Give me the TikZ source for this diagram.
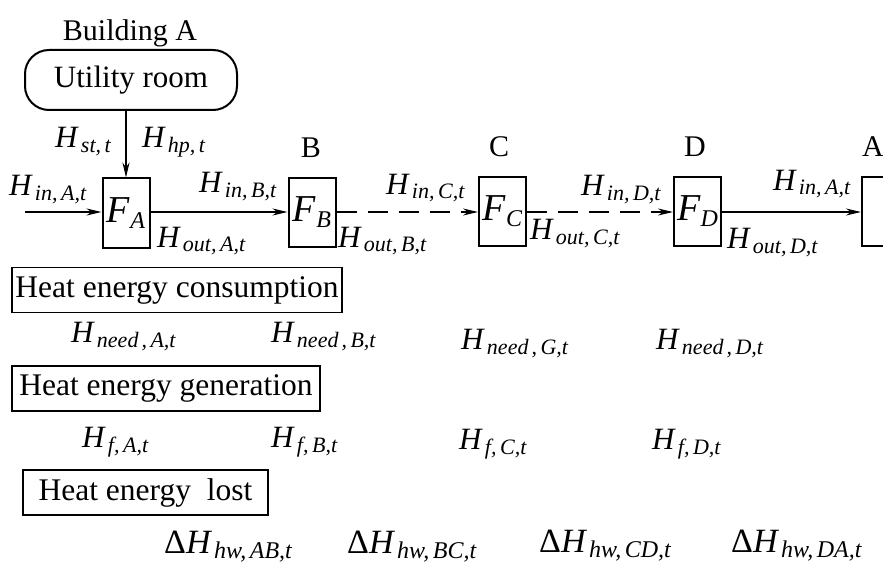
\documentclass[tikz,border=0pt]{standalone}
\usepackage{fontspec}
\setmainfont{Liberation Serif}
\usetikzlibrary{arrows.meta}
\newcommand\cm{,\hspace{3.5pt}}
\newcommand\Hs[1]{\fontsize{31}{31}\selectfont\textit{H}\hspace{2pt}\raisebox{-5pt}{\fontsize{22}{22}\selectfont\textit{#1}}}
\newcommand\Ds[1]{\fontsize{34}{34}\selectfont Δ\textit{H}\hspace{2pt}\raisebox{-5pt}{\fontsize{24}{24}\selectfont\textit{#1}}}
\newcommand\Fs[1]{\fontsize{38}{38}\selectfont\textit{F}\raisebox{-6pt}{\fontsize{24}{24}\selectfont\textit{#1}}}
\tikzset{
  fbox/.style={draw, line width=2pt, minimum width=47pt, minimum height=69pt, inner sep=0pt},
  lbl/.style={inner sep=0pt, anchor=base west},
  big/.style={inner sep=0pt, anchor=base, font=\fontsize{30}{30}\selectfont},
  secbox/.style={draw, line width=1.3pt, inner xsep=3pt, minimum height=45pt, font=\fontsize{31.5}{31.5}\selectfont},
  arr/.style={line width=1.8pt, -{Stealth[length=15pt,width=7pt]}},
  dsh/.style={arr, dash pattern=on 20pt off 11pt}
}
\begin{document}
\begin{tikzpicture}[x=1pt,y=-1pt]
\useasboundingbox (0,0) rectangle (883,564);
\fill[white] (0,0) rectangle (883,564);
\clip (0,0) rectangle (883,564);

% Building A and utility room
\node[big] (bld) at (130,41) {Building A};
\node[draw, line width=2pt, rounded corners=24pt, minimum width=212pt, minimum height=60pt, inner sep=0pt,
      font=\fontsize{31}{31}\selectfont] (ur) at (131,80) {Utility room};

% F boxes
\node[fbox] (FA) at (126,213) {\Fs{A}};
\node[fbox] (FB) at (312,212.5) {\Fs{B}};
\node[fbox] (FC) at (502.5,211.5) {\Fs{C}};
\node[fbox] (FD) at (697.5,211.5) {\Fs{D}};
\node[fbox, minimum width=60pt] (FA2) at (892,211.5) {};

% letters
\node[big] (lB) at (311,158) {B};
\node[big] (lC) at (499,157) {C};
\node[big] (lD) at (695,157) {D};
\node[big] (lA) at (873,157) {A};

% connectors
\coordinate (start) at (25,212);
\draw[arr] (start) -- (FA.west |- start);
\draw[arr] (ur.south -| FA.north) -- (FA.north);
\draw[arr] (FA.east |- 0,212) -- (FB.west |- 0,212);
\draw[dsh] (FB.east |- 0,212) -- (FC.west |- 0,212);
\draw[dsh] (FC.east |- 0,212) -- (FD.west |- 0,212);
\draw[arr] (FD.east |- 0,212) -- (FA2.west |- 0,212);

% flow labels
\node[lbl] (hst) at (55,148) {\Hs{st\cm t}};
\node[lbl] (hhp) at (142,148) {\Hs{hp\cm t}};
\node[lbl] (hinA) at (9,196) {\Hs{in\cm A,t}};
\node[lbl] (hinB) at (199,193) {\Hs{in\cm B,t}};
\node[lbl] (hinC) at (386,194) {\Hs{in\cm C,t}};
\node[lbl] (hinD) at (581,196) {\Hs{in\cm D,t}};
\node[lbl] (hinA2) at (773,190) {\Hs{in\cm A,t}};
\node[lbl] (houtA) at (157,247) {\Hs{out\cm A,t}};
\node[lbl] (houtB) at (338,247) {\Hs{out\cm B,t}};
\node[lbl] (houtC) at (530,240) {\Hs{out\cm C,t}};
\node[lbl] (houtD) at (727,248) {\Hs{out\cm D,t}};

% sections
\node[secbox, minimum width=330pt] (cons) at (177,290) {Heat energy consumption};
\node[lbl] (nA) at (71,342) {\Hs{need\hspace{3pt}\cm A,t}};
\node[lbl] (nB) at (271,342) {\Hs{need\hspace{3pt}\cm B,t}};
\node[lbl] (nG) at (461,349) {\Hs{need\hspace{3pt}\cm G,t}};
\node[lbl] (nD) at (656,349) {\Hs{need\hspace{3pt}\cm D,t}};

\node[secbox, minimum width=308pt] (gen) at (166,388.5) {Heat energy generation};
\node[lbl] (fA) at (82,447) {\Hs{f\cm A,t}};
\node[lbl] (fB) at (271,447) {\Hs{f\cm B,t}};
\node[lbl] (fC) at (459,449) {\Hs{f\cm C,t}};
\node[lbl] (fD) at (652,449) {\Hs{f\cm D,t}};

\node[secbox, minimum width=245pt] (lost) at (145.5,492.5) {Heat energy\ \ lost};
\node[lbl] (dAB) at (164,553) {\Ds{hw\cm AB,t}};
\node[lbl] (dBC) at (347,553) {\Ds{hw\cm BC,t}};
\node[lbl] (dCD) at (539,552) {\Ds{hw\cm CD,t}};
\node[lbl] (dDA) at (731,552) {\Ds{hw\cm DA,t}};
\end{tikzpicture}
\end{document}
